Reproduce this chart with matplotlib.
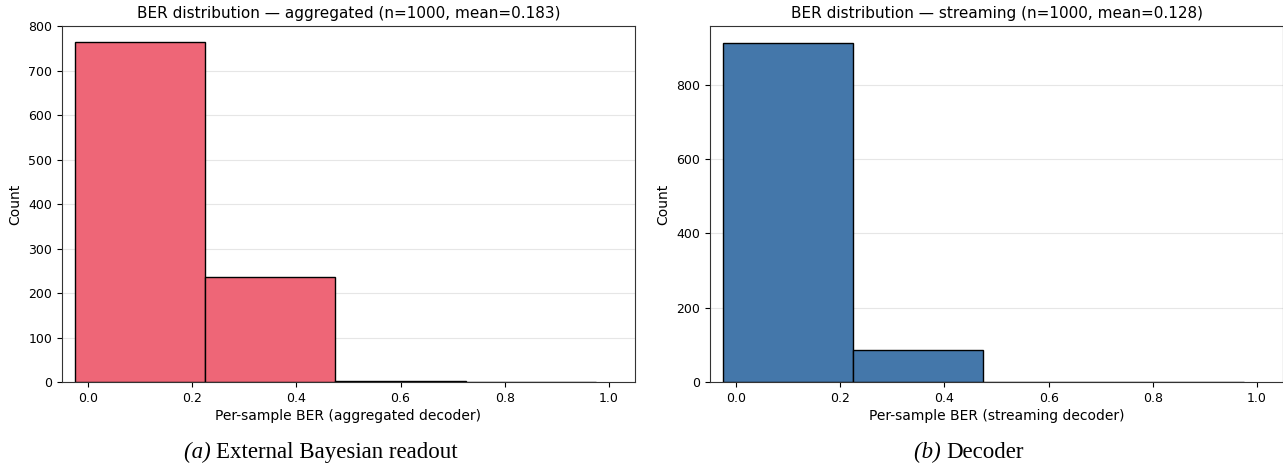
import numpy as np
import matplotlib
matplotlib.use("Agg")
import matplotlib.pyplot as plt

# histogram bins and counts
bin_edges = [-0.025, 0.225, 0.475, 0.725, 0.975]
agg_counts = [763, 235, 2, 0]
stream_counts = [913, 87, 0, 0]

agg_title = "BER distribution \u2014 aggregated (n=1000, mean=0.183)"
stream_title = "BER distribution \u2014 streaming (n=1000, mean=0.128)"
agg_xlabel = "Per-sample BER (aggregated decoder)"
stream_xlabel = "Per-sample BER (streaming decoder)"
captions = [("(a)", "External Bayesian readout"), ("(b)", "Decoder")]

fig = plt.figure(figsize=(12.83, 4.69), dpi=100)
ax1 = fig.add_axes([0.0483, 0.1855, 0.4466, 0.759])
ax2 = fig.add_axes([0.5534, 0.1855, 0.4466, 0.759])

centers = np.array(bin_edges[:-1])
for ax, counts, color, title, xlabel in [
    (ax1, agg_counts, "#EE6677", agg_title, agg_xlabel),
    (ax2, stream_counts, "#4477AA", stream_title, stream_xlabel),
]:
    ax.hist(centers, bins=bin_edges, weights=counts, color=color,
            edgecolor="black", linewidth=1.0, zorder=2)
    ax.set_xlim(-0.05, 1.05)
    ax.set_title(title, fontsize=11, pad=6)
    ax.set_xlabel(xlabel, fontsize=10, labelpad=3)
    ax.set_ylabel("Count", fontsize=10, labelpad=4)
    ax.tick_params(labelsize=9, length=3.5, width=0.8)
    ax.yaxis.grid(True, color="#e6e6e6", linewidth=0.8, zorder=0)
    ax.set_axisbelow(True)
    for s in ax.spines.values():
        s.set_color("#333333")
        s.set_linewidth(0.8)

ax1.set_ylim(0, 800)

# subfigure captions: italic tag + upright text, centred as one line
fig.canvas.draw()
r = fig.canvas.get_renderer()
W = fig.bbox.width
for (tag, text), xc in zip(captions, [321 / 1283, 969 / 1283]):
    t1 = fig.text(0, 0.036, tag + " ", ha="left", va="center", fontsize=16.5,
                  family="Liberation Serif", style="italic")
    t2 = fig.text(0, 0.036, text, ha="left", va="center", fontsize=16.5,
                  family="Liberation Serif")
    w1 = t1.get_window_extent(r).width / W
    w2 = t2.get_window_extent(r).width / W
    x0 = xc - (w1 + w2) / 2
    t1.set_x(x0)
    t2.set_x(x0 + w1)

fig.savefig("out.png", dpi=100)
